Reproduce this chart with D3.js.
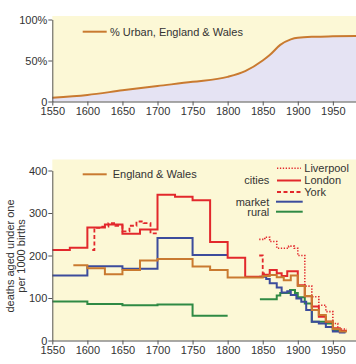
<!DOCTYPE html>
<html>
<head>
<meta charset="utf-8">
<script src="https://cdn.jsdelivr.net/npm/d3@7"></script>
<style>
html,body{margin:0;padding:0;background:#fff;}
svg{display:block;font-family:"Liberation Sans",Arial,sans-serif;}
</style>
</head>
<body>
<svg id="chart" width="356" height="364"></svg>
<script>
// ---- Data ----
const xTicks = [1550,1600,1650,1700,1750,1800,1850,1900,1950];
const urbanTicks = [0,50,100];
const urbanTickLabels = ["0","50%","100%"];
const imrTicks = [0,100,200,300,400];

const urbanYears = [1550,1600,1650,1700,1750,1800,1825,1850,1860,1875,1890,1900,1925,1950,1983];
const urbanPct   = [4.6,8,13.6,18.9,24,30,37,50,56.7,69,75.8,77.8,79,79.5,80];

// step series: years = step starts + final end year, values = one per step
const englandYears = [1580,1600,1625,1650,1675,1700,1750,1775,1800,1850,1860,1870,1880,1890,1900,1910,1920,1930,1940,1950,1960,1970];
const englandIMR   = [177,170,156,166,188,192,174,166,148,152,154,149,142,153,128,105,72,60,45,27,21];

const londonYears = [1550,1575,1600,1625,1650,1675,1700,1725,1750,1775,1800,1825,1850,1860,1870,1877,1885,1900,1910,1920,1930,1940,1950,1960,1970];
const londonIMR   = [213,218,266,273,251,261,343,338,330,232,195,150,155,166,158,152,163,130,104,80,56,44,29,23];

const yorkYearsA = [1607,1610,1620,1630,1640,1650,1660,1670,1680,1690,1700];
const yorkIMRA   = [213,265,268,276,270,257,270,280,276,252];
const yorkYearsB = [1845,1850,1856];
const yorkIMRB   = [200,158];

const liverpoolYears = [1845,1853,1860,1870,1887,1895,1900,1910,1920,1930,1940,1950,1957,1970];
const liverpoolIMR   = [238,243,233,217,222,217,200,128,103,83,68,40,27];

const marketYearsA = [1550,1600,1650,1700,1750,1800];
const marketIMRA   = [153,175,169,241,201];
const marketYearsB = [1845,1855,1860,1870,1877,1885,1890,1898,1905,1912,1920,1930,1940,1950,1960,1968];
const marketIMRB   = [150,145,135,125,113,116,107,99,91,72,44,40,32,21,19];

const ruralYearsA = [1550,1600,1650,1700,1750,1800];
const ruralIMRA   = [92,86,83,85,58];
const ruralYearsB = [1846,1870,1875,1889,1896,1900,1910,1920,1940,1950,1960,1968];
const ruralIMRB   = [97,106,112,119,112,102,87,44,40,25,20];

// ---- Styles ----
const C = {
  orange:"#c97a30", red:"#e2282c", blue:"#3c4c9c", green:"#2f8a44",
  yellow:"#fcf8d6", lav:"#e5e3f3", axis:"#555", text:"#333"
};
const tickFont = '"Liberation Sans Narrow","Arial Narrow","Liberation Sans",sans-serif';

const svg = d3.select("#chart");
const x = d3.scaleLinear().domain([1550,1983]).range([52.3,356]);
const yTop = d3.scaleLinear().domain([0,100]).range([101.5,19.5]);
const yBot = d3.scaleLinear().domain([0,400]).range([340.5,170.5]);

// ---- Top chart ----
svg.append("rect").attr("x",x(1550)).attr("y",16).attr("width",356-x(1550)).attr("height",yTop(0)-16).attr("fill",C.yellow);
const urban = urbanYears.map((d,i)=>[d,urbanPct[i]]);
svg.append("path").datum(urban)
  .attr("d",d3.area().x(d=>x(d[0])).y0(yTop(0)).y1(d=>yTop(d[1])).curve(d3.curveMonotoneX))
  .attr("fill",C.lav);
svg.append("path").datum(urban)
  .attr("d",d3.line().x(d=>x(d[0])).y(d=>yTop(d[1])).curve(d3.curveMonotoneX))
  .attr("fill","none").attr("stroke",C.orange).attr("stroke-width",2);

function styleAxis(g){
  g.selectAll("path.domain").attr("stroke",C.axis);
  g.selectAll(".tick line").attr("stroke",C.axis);
  g.selectAll(".tick text").attr("fill",C.text).attr("font-size",11).style("font-family",tickFont);
}
svg.append("g").attr("transform",`translate(0,${yTop(0)})`)
  .call(d3.axisBottom(x).tickValues(xTicks).tickFormat(d3.format("d")).tickSize(4).tickSizeOuter(0).tickPadding(1.5))
  .call(styleAxis);
svg.append("g").attr("transform",`translate(${x(1550)},0)`)
  .call(d3.axisLeft(yTop).tickValues(urbanTicks).tickFormat((d,i)=>urbanTickLabels[i]).tickSize(4).tickSizeOuter(0).tickPadding(1))
  .call(styleAxis);

svg.append("line").attr("x1",82.7).attr("x2",106.7).attr("y1",31.7).attr("y2",31.7).attr("stroke",C.orange).attr("stroke-width",2);
svg.append("text").attr("x",110).attr("y",31.7).attr("dy","0.35em").attr("font-size",11).attr("fill",C.text).text("% Urban, England & Wales");

// ---- Bottom chart ----
svg.append("rect").attr("x",x(1550)).attr("y",159.5).attr("width",356-x(1550)).attr("height",yBot(0)-159.5).attr("fill",C.yellow);

function stepPts(years, vals){
  const p = vals.map((v,i)=>[years[i],v]);
  p.push([years[years.length-1], vals[vals.length-1]]);
  return p;
}
const stepLine = d3.line().x(d=>x(d[0])).y(d=>yBot(d[1])).curve(d3.curveStepAfter);
function drawStep(years, vals, color, dash, w){
  svg.append("path").datum(stepPts(years,vals)).attr("d",stepLine)
    .attr("fill","none").attr("stroke",color).attr("stroke-width",w||2)
    .attr("stroke-dasharray",dash||null).attr("stroke-linejoin","miter");
}
drawStep(ruralYearsA, ruralIMRA, C.green);
drawStep(ruralYearsB, ruralIMRB, C.green);
drawStep(marketYearsA, marketIMRA, C.blue);
drawStep(marketYearsB, marketIMRB, C.blue);
drawStep(londonYears, londonIMR, C.red);
drawStep(yorkYearsA, yorkIMRA, C.red, "4,2.5", 1.8);
drawStep(yorkYearsB, yorkIMRB, C.red, "4,2.5", 1.8);
drawStep(liverpoolYears, liverpoolIMR, C.red, "1.3,1.6", 1.6);
drawStep(englandYears, englandIMR, C.orange);

svg.append("g").attr("transform",`translate(0,${yBot(0)})`)
  .call(d3.axisBottom(x).tickValues(xTicks).tickFormat(d3.format("d")).tickSize(4).tickSizeOuter(0).tickPadding(1.5))
  .call(styleAxis);
svg.append("g").attr("transform",`translate(${x(1550)},0)`)
  .call(d3.axisLeft(yBot).tickValues(imrTicks).tickFormat(d3.format("d")).tickSize(4).tickSizeOuter(0).tickPadding(1))
  .call(styleAxis);

// y title
const yt = svg.append("text").attr("transform","translate(10,256) rotate(-90)").attr("text-anchor","middle").attr("font-size",11).attr("fill",C.text);
yt.append("tspan").attr("x",0).attr("y",0).attr("dy","0.35em").text("deaths aged under one");
yt.append("tspan").attr("x",0).attr("y",11.5).attr("dy","0.35em").text("per 1000 births");

// legends
svg.append("line").attr("x1",82.7).attr("x2",106.7).attr("y1",174.3).attr("y2",174.3).attr("stroke",C.orange).attr("stroke-width",2);
svg.append("text").attr("x",112.7).attr("y",174.3).attr("dy","0.35em").attr("font-size",11).attr("fill",C.text).text("England & Wales");

const leg = [
  {y:168.3, label:"Liverpool", color:C.red, dash:"1.3,1.6", w:1.6},
  {y:180.5, label:"London", color:C.red, dash:null, w:2},
  {y:192.0, label:"York", color:C.red, dash:"4,2.5", w:1.8}
];
leg.forEach(d=>{
  svg.append("line").attr("x1",277).attr("x2",301).attr("y1",d.y).attr("y2",d.y).attr("stroke",d.color).attr("stroke-width",d.w).attr("stroke-dasharray",d.dash);
  svg.append("text").attr("x",304.3).attr("y",d.y).attr("dy","0.35em").attr("font-size",11).attr("fill",C.text).text(d.label);
});
svg.append("text").attr("x",269.3).attr("y",179.7).attr("dy","0.35em").attr("text-anchor","end").attr("font-size",11).attr("fill",C.text).text("cities");
[{y:201.7,label:"market",color:C.blue},{y:211.7,label:"rural",color:C.green}].forEach(d=>{
  svg.append("line").attr("x1",276).attr("x2",302.7).attr("y1",d.y).attr("y2",d.y).attr("stroke",d.color).attr("stroke-width",2);
  svg.append("text").attr("x",269.3).attr("y",d.y).attr("dy","0.35em").attr("text-anchor","end").attr("font-size",11).attr("fill",C.text).text(d.label);
});
</script>
</body>
</html>
